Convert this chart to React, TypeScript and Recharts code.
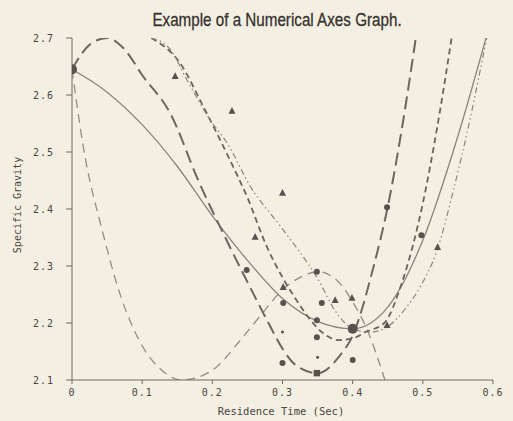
import React from "react";
import { ComposedChart, Line, Scatter, XAxis, YAxis } from "recharts";

// x ticks / y ticks
const xTicks = [0, 0.1, 0.2, 0.3, 0.4, 0.5, 0.6];
const yTicks = [2.1, 2.2, 2.3, 2.4, 2.5, 2.6, 2.7];

// fitted curves
const solidFit = [
  { x: 0, y: 2.645 }, { x: 0.05, y: 2.605 }, { x: 0.1, y: 2.548 }, { x: 0.15, y: 2.475 },
  { x: 0.2, y: 2.388 }, { x: 0.25, y: 2.31 }, { x: 0.3, y: 2.243 }, { x: 0.35, y: 2.203 },
  { x: 0.4, y: 2.19 }, { x: 0.45, y: 2.228 }, { x: 0.5, y: 2.345 }, { x: 0.55, y: 2.528 },
  { x: 0.59, y: 2.7 },
];
const longDashFit = [
  { x: 0, y: 2.645 }, { x: 0.025, y: 2.688 }, { x: 0.05, y: 2.7 }, { x: 0.075, y: 2.68 },
  { x: 0.1, y: 2.635 }, { x: 0.14, y: 2.568 }, { x: 0.18, y: 2.45 }, { x: 0.22, y: 2.346 },
  { x: 0.25, y: 2.272 }, { x: 0.28, y: 2.2 }, { x: 0.3, y: 2.155 }, { x: 0.32, y: 2.125 },
  { x: 0.35, y: 2.112 }, { x: 0.38, y: 2.14 }, { x: 0.4, y: 2.178 }, { x: 0.43, y: 2.3 },
  { x: 0.45, y: 2.404 }, { x: 0.47, y: 2.54 }, { x: 0.49, y: 2.7 },
];
const mediumDashFit = [
  { x: 0, y: 2.645 }, { x: 0.016, y: 2.51 }, { x: 0.044, y: 2.358 }, { x: 0.07, y: 2.245 },
  { x: 0.1, y: 2.16 }, { x: 0.13, y: 2.115 }, { x: 0.155, y: 2.1 }, { x: 0.18, y: 2.105 },
  { x: 0.206, y: 2.123 }, { x: 0.24, y: 2.17 }, { x: 0.27, y: 2.215 }, { x: 0.3, y: 2.258 },
  { x: 0.33, y: 2.283 }, { x: 0.35, y: 2.29 }, { x: 0.38, y: 2.272 }, { x: 0.4, y: 2.237 },
  { x: 0.42, y: 2.19 }, { x: 0.446, y: 2.1 },
];
const shortDashFit = [
  { x: 0.113, y: 2.7 }, { x: 0.154, y: 2.656 }, { x: 0.187, y: 2.58 }, { x: 0.225, y: 2.486 },
  { x: 0.25, y: 2.42 }, { x: 0.278, y: 2.333 }, { x: 0.3, y: 2.28 }, { x: 0.32, y: 2.24 },
  { x: 0.34, y: 2.205 }, { x: 0.36, y: 2.18 }, { x: 0.38, y: 2.17 }, { x: 0.4, y: 2.173 },
  { x: 0.42, y: 2.185 }, { x: 0.445, y: 2.2 }, { x: 0.47, y: 2.27 }, { x: 0.5, y: 2.41 },
  { x: 0.52, y: 2.54 }, { x: 0.541, y: 2.7 },
];
const dashDotFit = [
  { x: 0.113, y: 2.7 }, { x: 0.14, y: 2.68 }, { x: 0.164, y: 2.626 }, { x: 0.197, y: 2.556 },
  { x: 0.221, y: 2.516 }, { x: 0.254, y: 2.44 }, { x: 0.3, y: 2.365 }, { x: 0.35, y: 2.278 },
  { x: 0.377, y: 2.218 }, { x: 0.4, y: 2.19 }, { x: 0.425, y: 2.184 }, { x: 0.449, y: 2.193 },
  { x: 0.475, y: 2.225 }, { x: 0.496, y: 2.263 }, { x: 0.521, y: 2.33 }, { x: 0.543, y: 2.43 },
  { x: 0.567, y: 2.556 }, { x: 0.591, y: 2.7 },
];

// measured points
const circlePts = [
  { x: 0.249, y: 2.293 }, { x: 0.301, y: 2.235 }, { x: 0.349, y: 2.29 }, { x: 0.356, y: 2.235 },
  { x: 0.349, y: 2.205 }, { x: 0.349, y: 2.175 }, { x: 0.3, y: 2.13 }, { x: 0.4, y: 2.135 },
  { x: 0.449, y: 2.403 }, { x: 0.498, y: 2.354 },
];
const bigCirclePts = [{ x: 0, y: 2.645 }, { x: 0.4, y: 2.19 }];
const smallDotPts = [{ x: 0.3, y: 2.184 }, { x: 0.35, y: 2.14 }];
const trianglePts = [
  { x: 0.147, y: 2.633 }, { x: 0.228, y: 2.572 }, { x: 0.3, y: 2.428 }, { x: 0.261, y: 2.351 },
  { x: 0.375, y: 2.24 }, { x: 0.521, y: 2.333 }, { x: 0.449, y: 2.196 }, { x: 0.301, y: 2.263 },
  { x: 0.399, y: 2.244 },
];
const squarePts = [{ x: 0.349, y: 2.112 }];

const ink = "#57524d";
const mono = "'DejaVu Sans Mono', monospace";

const dot = (r: number) => (p: any) => <circle cx={p.cx} cy={p.cy} r={r} fill={ink} />;
const tri = (p: any) => (
  <path d={`M${p.cx},${p.cy - 4} L${p.cx + 3.5},${p.cy + 2.8} L${p.cx - 3.5},${p.cy + 2.8} Z`} fill={ink} />
);
const sq = (p: any) => <rect x={p.cx - 3.2} y={p.cy - 3.2} width={6.4} height={6.4} fill={ink} />;

const tickStyle = { fontFamily: mono, fontSize: 10, fill: "#4a4540", letterSpacing: 1 };

export default function App() {
  return (
    <div style={{ position: "absolute", left: 0, top: 0, width: 513, height: 421, background: "#f4efe3" }}>
      <div
        style={{
          position: "absolute", top: 9, left: 277, transform: "translateX(-50%) scaleX(0.8)",
          fontFamily: "'Liberation Sans', Arial, sans-serif", fontSize: 19, color: "#35312d",
          whiteSpace: "nowrap", WebkitTextStroke: "0.3px #35312d",
        }}
      >
        Example of a Numerical Axes Graph.
      </div>
      <div
        style={{
          position: "absolute", left: 17, top: 205, transform: "translate(-50%, -50%) rotate(-90deg)",
          fontFamily: mono, fontSize: 10, color: "#4a4540", whiteSpace: "nowrap",
        }}
      >
        Specific Gravity
      </div>
      <div
        style={{
          position: "absolute", left: 281, top: 411, transform: "translate(-50%, -50%)",
          fontFamily: mono, fontSize: 10.5, color: "#4a4540", whiteSpace: "nowrap",
        }}
      >
        Residence Time (Sec)
      </div>
      <ComposedChart width={513} height={421} margin={{ top: 38, right: 20, bottom: 0, left: 0 }}>
        <XAxis
          dataKey="x" type="number" domain={[0, 0.6]} ticks={xTicks} height={41}
          tickFormatter={(v: number) => (v === 0 ? "0" : v.toFixed(1))}
          tick={tickStyle} tickSize={4} tickMargin={5}
          stroke="#6f6a64" allowDataOverflow
        />
        <YAxis
          dataKey="y" type="number" domain={[2.1, 2.7]} ticks={yTicks} width={72}
          tickFormatter={(v: number) => v.toFixed(1)}
          tick={tickStyle} tickSize={6} tickMargin={12}
          stroke="#6f6a64" allowDataOverflow
        />
        <Line data={solidFit} dataKey="y" type="monotone" stroke="#8a847e" strokeWidth={1.3} dot={false} isAnimationActive={false} />
        <Line data={mediumDashFit} dataKey="y" type="monotone" stroke="#948d86" strokeWidth={1.3} strokeDasharray="9 6" dot={false} isAnimationActive={false} />
        <Line data={longDashFit} dataKey="y" type="monotone" stroke="#6d6761" strokeWidth={2} strokeDasharray="13 6" dot={false} isAnimationActive={false} />
        <Line data={shortDashFit} dataKey="y" type="monotone" stroke="#6a645e" strokeWidth={1.8} strokeDasharray="6 4" dot={false} isAnimationActive={false} />
        <Line data={dashDotFit} dataKey="y" type="monotone" stroke="#8a847e" strokeWidth={1.2} strokeDasharray="6 3 1.5 3 1.5 3" dot={false} isAnimationActive={false} />
        <Scatter data={circlePts} dataKey="y" shape={dot(3)} isAnimationActive={false} />
        <Scatter data={bigCirclePts} dataKey="y" shape={dot(5)} isAnimationActive={false} />
        <Scatter data={smallDotPts} dataKey="y" shape={dot(1.5)} isAnimationActive={false} />
        <Scatter data={trianglePts} dataKey="y" shape={tri} isAnimationActive={false} />
        <Scatter data={squarePts} dataKey="y" shape={sq} isAnimationActive={false} />
      </ComposedChart>
    </div>
  );
}
